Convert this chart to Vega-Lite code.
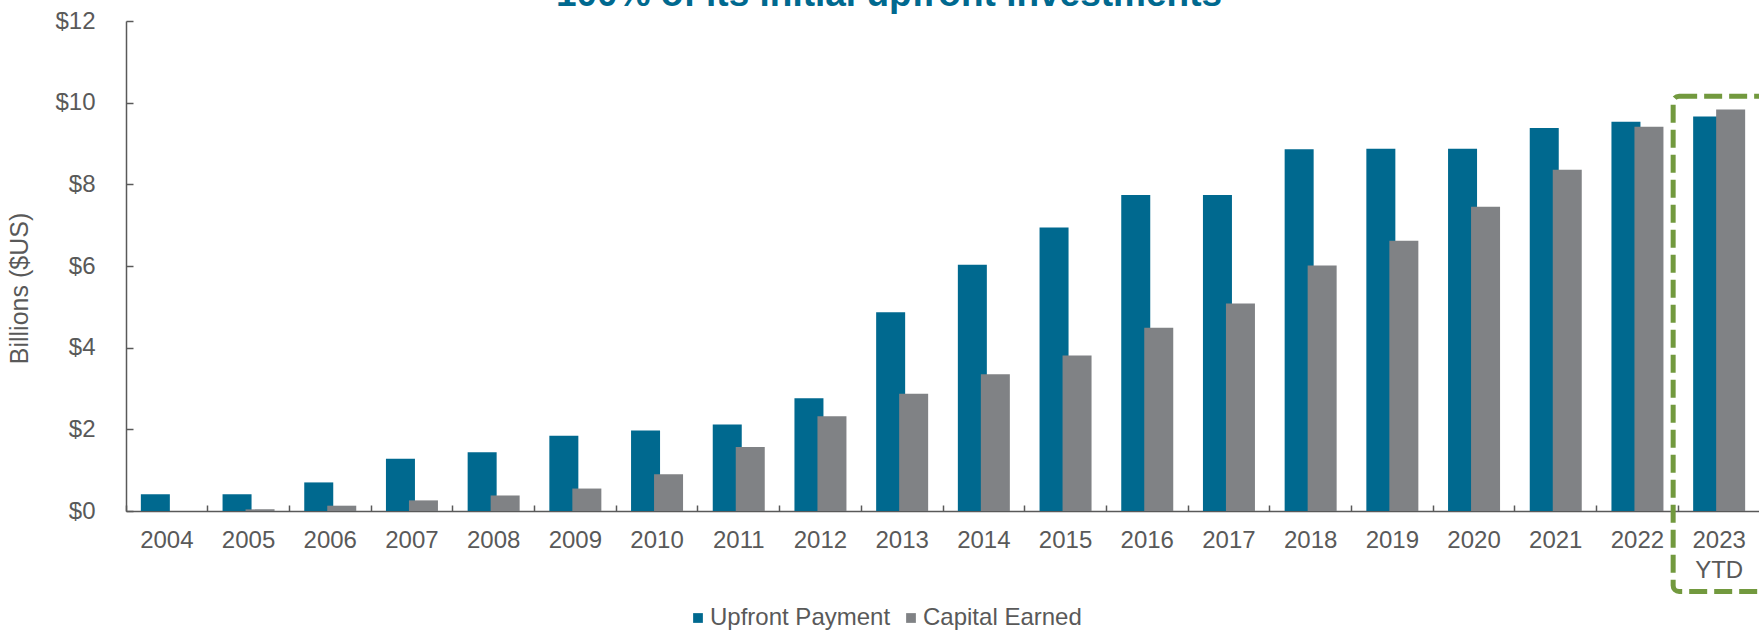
{
  "$schema": "https://vega.github.io/schema/vega-lite/v6.json",
  "width": 1634,
  "height": 490,
  "autosize": {"type": "none"},
  "padding": {"left": 126, "top": 21, "right": 0, "bottom": 119},
  "config": {
    "font": "Liberation Sans",
    "view": {"stroke": null}
  },
  "title": {
    "text": "100% of its initial upfront investments",
    "fontSize": 37,
    "fontWeight": "bold",
    "color": "#00698F",
    "anchor": "middle",
    "frame": "group",
    "dx": -54,
    "dy": 39,
    "offset": 5,
    "baseline": "alphabetic"
  },
  "datasets": {
    "bars": [
      {"year": "2004", "series": "Upfront Payment", "value": 0.41},
      {"year": "2005", "series": "Upfront Payment", "value": 0.41},
      {"year": "2006", "series": "Upfront Payment", "value": 0.70},
      {"year": "2007", "series": "Upfront Payment", "value": 1.28},
      {"year": "2008", "series": "Upfront Payment", "value": 1.44},
      {"year": "2009", "series": "Upfront Payment", "value": 1.84},
      {"year": "2010", "series": "Upfront Payment", "value": 1.97},
      {"year": "2011", "series": "Upfront Payment", "value": 2.12},
      {"year": "2012", "series": "Upfront Payment", "value": 2.76},
      {"year": "2013", "series": "Upfront Payment", "value": 4.87},
      {"year": "2014", "series": "Upfront Payment", "value": 6.03},
      {"year": "2015", "series": "Upfront Payment", "value": 6.94},
      {"year": "2016", "series": "Upfront Payment", "value": 7.74},
      {"year": "2017", "series": "Upfront Payment", "value": 7.74},
      {"year": "2018", "series": "Upfront Payment", "value": 8.86},
      {"year": "2019", "series": "Upfront Payment", "value": 8.87},
      {"year": "2020", "series": "Upfront Payment", "value": 8.87},
      {"year": "2021", "series": "Upfront Payment", "value": 9.38},
      {"year": "2022", "series": "Upfront Payment", "value": 9.53},
      {"year": "2023 YTD", "series": "Upfront Payment", "value": 9.66},
      {"year": "2004", "series": "Capital Earned", "value": 0.0},
      {"year": "2005", "series": "Capital Earned", "value": 0.04},
      {"year": "2006", "series": "Capital Earned", "value": 0.13},
      {"year": "2007", "series": "Capital Earned", "value": 0.26},
      {"year": "2008", "series": "Capital Earned", "value": 0.38},
      {"year": "2009", "series": "Capital Earned", "value": 0.55},
      {"year": "2010", "series": "Capital Earned", "value": 0.90},
      {"year": "2011", "series": "Capital Earned", "value": 1.57},
      {"year": "2012", "series": "Capital Earned", "value": 2.32},
      {"year": "2013", "series": "Capital Earned", "value": 2.87},
      {"year": "2014", "series": "Capital Earned", "value": 3.35},
      {"year": "2015", "series": "Capital Earned", "value": 3.81},
      {"year": "2016", "series": "Capital Earned", "value": 4.49},
      {"year": "2017", "series": "Capital Earned", "value": 5.08},
      {"year": "2018", "series": "Capital Earned", "value": 6.01},
      {"year": "2019", "series": "Capital Earned", "value": 6.62},
      {"year": "2020", "series": "Capital Earned", "value": 7.45},
      {"year": "2021", "series": "Capital Earned", "value": 8.36},
      {"year": "2022", "series": "Capital Earned", "value": 9.41},
      {"year": "2023 YTD", "series": "Capital Earned", "value": 9.83}
    ]
  },
  "layer": [
    {
      "data": {"name": "bars"},
      "mark": {"type": "bar", "width": 29},
      "encoding": {
        "x": {
          "field": "year",
          "type": "nominal",
          "sort": null,
          "scale": {"paddingInner": 0, "paddingOuter": 0},
          "axis": {
            "title": null,
            "labelAngle": 0,
            "labelFontSize": 24,
            "labelColor": "#595959",
            "labelPadding": 23,
            "labelLineHeight": 30,
            "labelExpr": "datum.value == '2023 YTD' ? ['2023', 'YTD'] : datum.label",
            "domainColor": "#595959",
            "domainWidth": 1.5,
            "tickColor": "#595959",
            "tickWidth": 1.5,
            "tickSize": -6,
            "bandPosition": 0,
            "grid": false
          }
        },
        "xOffset": {
          "field": "series",
          "type": "nominal",
          "sort": ["Upfront Payment", "Capital Earned"],
          "scale": {"paddingInner": 0, "paddingOuter": 0.776}
        },
        "y": {
          "field": "value",
          "type": "quantitative",
          "stack": null,
          "scale": {"domain": [0, 12], "nice": false},
          "axis": {
            "title": "Billions ($US)",
            "values": [0, 2, 4, 6, 8, 10, 12],
            "format": "$,.0f",
            "labelFontSize": 24,
            "labelColor": "#595959",
            "labelPadding": 38,
            "titleFontSize": 25,
            "titleFontWeight": "normal",
            "titleColor": "#595959",
            "titlePadding": 22,
            "titleY": 267,
            "domainColor": "#595959",
            "domainWidth": 1.5,
            "tickColor": "#595959",
            "tickWidth": 1.5,
            "tickSize": -7,
            "grid": false
          }
        },
        "color": {
          "field": "series",
          "type": "nominal",
          "sort": ["Upfront Payment", "Capital Earned"],
          "scale": {"domain": ["Upfront Payment", "Capital Earned"], "range": ["#00698F", "#808285"]},
          "legend": {
            "orient": "none",
            "legendX": 560,
            "legendY": 585,
            "direction": "horizontal",
            "title": null,
            "symbolType": "square",
            "symbolSize": 95,
            "symbolStrokeWidth": 0,
            "labelFontSize": 24,
            "labelColor": "#595959",
            "labelLimit": 0,
            "labelOffset": 0,
            "columnPadding": 8
          }
        }
      }
    },
    {
      "data": {"values": [{}]},
      "mark": {
        "type": "bar",
        "width": 100,
        "xOffset": 4,
        "fill": "white",
        "fillOpacity": 0,
        "stroke": "#72993E",
        "strokeWidth": 5,
        "strokeDash": [18, 7],
        "cornerRadius": 6
      },
      "encoding": {
        "x": {"datum": "2023 YTD", "type": "nominal"},
        "y": {"datum": 10.16, "type": "quantitative"},
        "y2": {"datum": -1.97}
      }
    }
  ]
}
